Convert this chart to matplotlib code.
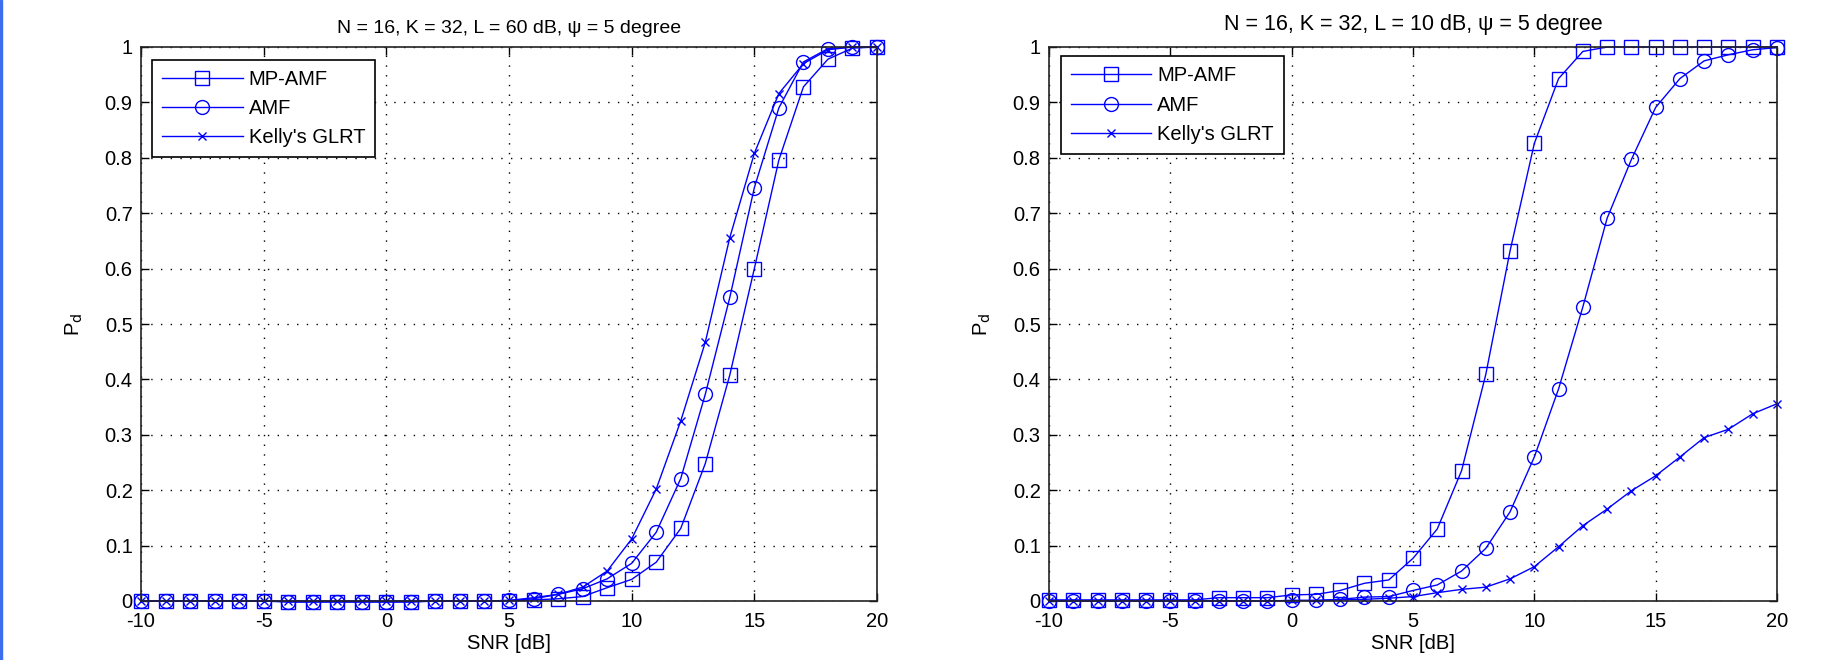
import matplotlib
matplotlib.use("Agg")
import matplotlib.pyplot as plt
from matplotlib.patches import Rectangle
import numpy as np

plt.rcParams['font.family'] = ['Liberation Sans', 'DejaVu Sans']
plt.rcParams['axes.unicode_minus'] = False

snr = np.arange(-10, 21, 1)

# L = 60 dB
mpamf_60 = [0.0, 0.0, 0.0, 0.0, 0.0, 0.0, -0.002, -0.002, -0.002, -0.002,
            -0.002, -0.002, 0.0, 0.0, 0.0, 0.0, 0.002, 0.004, 0.008, 0.024,
            0.039, 0.07, 0.131, 0.248, 0.408, 0.60, 0.796, 0.928, 0.978, 0.998, 1.0]
amf_60 = [0.0, 0.0, 0.0, 0.0, 0.0, 0.0, -0.001, -0.001, -0.001, -0.001,
          -0.001, -0.001, 0.0, 0.0, 0.0, 0.001, 0.004, 0.012, 0.022, 0.04,
          0.068, 0.124, 0.221, 0.373, 0.548, 0.746, 0.89, 0.973, 0.997, 1.0, 1.0]
kelly_60 = [0.0, 0.0, 0.0, 0.0, 0.0, 0.0, 0.0, 0.0, 0.0, 0.0,
            0.0, 0.0, 0.0, 0.0, 0.0, 0.001, 0.006, 0.012, 0.025, 0.054,
            0.112, 0.202, 0.325, 0.467, 0.656, 0.808, 0.916, 0.97, 0.995, 1.0, 1.0]

# L = 10 dB
mpamf_10 = [0.002, 0.002, 0.002, 0.002, 0.002, 0.002, 0.002, 0.006, 0.006, 0.006,
            0.011, 0.012, 0.019, 0.032, 0.038, 0.077, 0.130, 0.235, 0.409, 0.632,
            0.826, 0.943, 0.992, 1.0, 1.0, 1.0, 1.0, 1.0, 1.0, 1.0, 1.0]
amf_10 = [0.0, 0.0, 0.0, 0.0, 0.0, 0.0, 0.0, 0.0, 0.0, 0.0,
          0.001, 0.001, 0.003, 0.007, 0.008, 0.019, 0.029, 0.054, 0.095, 0.161,
          0.26, 0.383, 0.531, 0.691, 0.797, 0.891, 0.943, 0.975, 0.986, 0.995, 0.999]
kelly_10 = [0.0, 0.0, 0.0, 0.0, 0.0, 0.0, 0.0, 0.0, 0.0, 0.0,
            0.001, 0.001, 0.002, 0.003, 0.005, 0.008, 0.015, 0.021, 0.025, 0.040,
            0.062, 0.098, 0.136, 0.166, 0.199, 0.226, 0.26, 0.295, 0.31, 0.338, 0.356]

titles = ['N = 16, K = 32, L = 60 dB, \u03c8 = 5 degree',
          'N = 16, K = 32, L = 10 dB, \u03c8 = 5 degree']
labels = ['MP-AMF', 'AMF', "Kelly's GLRT"]
xticks = [-10, -5, 0, 5, 10, 15, 20]
yticks = np.round(np.arange(0, 1.01, 0.1), 1)
ytick_labels = ['0', '0.1', '0.2', '0.3', '0.4', '0.5', '0.6', '0.7', '0.8', '0.9', '1']

W, H = 1833, 660
fig = plt.figure(figsize=(W / 100, H / 100), dpi=100)
fig.patches.append(Rectangle((0, 0), 2 / W, 1, transform=fig.transFigure,
                             color='#3c6ef0', zorder=0))

blue = '#0000ff'
panels = [
    ([141, 736], (mpamf_60, amf_60, kelly_60), titles[0], 14, 10, (0.015, 0.977)),
    ([1049, 728], (mpamf_10, amf_10, kelly_10), titles[1], 15.5, 12, (0.016, 0.983)),
]
for (x0, w), series, title, tsize, tpad, leg_pos in panels:
    ax = fig.add_axes([x0 / W, (H - 601) / H, w / W, 554 / H])
    styles = [dict(marker='s', markersize=10), dict(marker='o', markersize=10),
              dict(marker='x', markersize=6, markeredgewidth=1.0)]
    for vals, lab, st in zip(series, labels, styles):
        ax.plot(snr, vals, color=blue, lw=1.0, markerfacecolor='none',
                markeredgecolor=blue, label=lab, clip_on=False, **st)
    ax.set_xlim(-10, 20)
    ax.set_ylim(0, 1)
    ax.set_xticks(xticks)
    ax.set_yticks(yticks)
    ax.set_yticklabels(ytick_labels)
    ax.tick_params(direction='in', length=6, width=1.0, top=True, right=True,
                   labelsize=14.5, colors='black')
    ax.tick_params(axis='x', pad=8)
    ax.tick_params(axis='y', pad=6)
    ax.grid(True, color='black', linestyle=(0, (1, 6)), linewidth=1.0)
    for sp in ax.spines.values():
        sp.set_linewidth(1.2)
        sp.set_color('#222222')
    ax.set_title(title, fontsize=tsize, pad=tpad)
    ax.set_xlabel('SNR [dB]', fontsize=14.5, labelpad=2)
    ax.set_ylabel(r'P$_\mathrm{d}$', fontsize=14.5, labelpad=14)
    leg = ax.legend(loc='upper left', bbox_to_anchor=leg_pos, borderaxespad=0,
                    fontsize=14.5, handlelength=4.0, handletextpad=0.3,
                    labelspacing=0.5, borderpad=0.5, numpoints=1,
                    fancybox=False, framealpha=1, edgecolor='black')
    leg.get_frame().set_linewidth(1.2)

fig.savefig('out.png', dpi=100)
